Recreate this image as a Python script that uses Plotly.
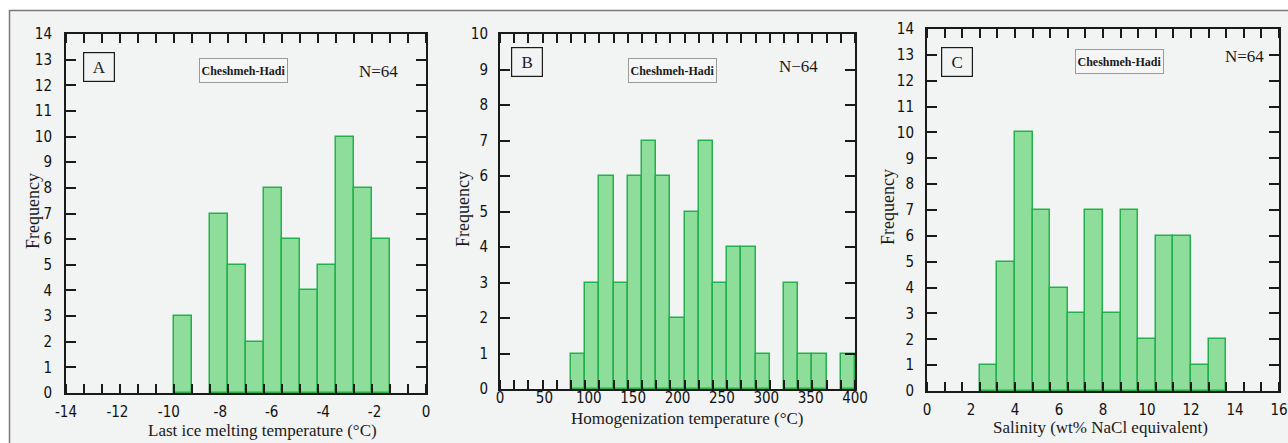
import plotly.graph_objects as go

W, H = 1288, 443

# ---------------- data ----------------
a_bin_start = -14.0
a_bin_width = 0.7
a_counts = [0, 0, 0, 0, 0, 0, 3, 0, 7, 5, 2, 8, 6, 4, 5, 10, 8, 6, 0, 0]

b_bin_start = 0.0
b_bin_width = 16.0
b_counts = [0, 0, 0, 0, 0, 1, 3, 6, 3, 6, 7, 6, 2, 5, 7, 3, 4, 4, 1, 0, 3, 1, 1, 0, 1]

c_bin_start = 0.0
c_bin_width = 0.8
c_counts = [0, 0, 0, 1, 5, 10, 7, 4, 3, 7, 3, 7, 2, 6, 6, 1, 2, 0, 0, 0]

a_xticks = [-14, -12, -10, -8, -6, -4, -2, 0]
a_xtick_labels = ["-14", "-12", "-10", "-8", "-6", "-4", "-2", "0"]
b_xticks = [0, 50, 100, 150, 200, 250, 300, 350, 400]
b_xtick_labels = ["0", "50", "100", "150", "200", "250", "300", "350", "400"]
c_xticks = [0, 2, 4, 6, 8, 10, 12, 14, 16]
c_xtick_labels = ["0", "2", "4", "6", "8", "10", "12", "14", "16"]

x_titles = ["Last ice melting temperature (°C)",
            "Homogenization temperature (°C)",
            "Salinity (wt% NaCl equivalent)"]
panel_letters = ["A", "B", "C"]
site_name = "Cheshmeh-Hadi"
n_labels = ["N=64", "N\u221264", "N=64"]

# ---------------- styling / layout ----------------
BG = "#f2f3f3"
FILL = "#8edd9b"
EDGE = "#22b14c"
TICK_FONT = dict(family="Liberation Sans Narrow, Arial Narrow, DejaVu Sans Condensed, Liberation Sans, Arial",
                 size=15, color="#111111")
SERIF = "Liberation Serif, Times New Roman, serif"


def px(x):
    return x / W


def py(y):
    return 1 - y / H


panels = [
    dict(counts=a_counts, start=a_bin_start, width=a_bin_width, xr=[-14, 0], yr=[0, 14],
         xticks=a_xticks, xlabels=a_xtick_labels,
         box=(66, 426, 34, 393), xstand=4, ystand=9, long_col="#1a1a1a",
         ytitle=(33, 211), xtitle=(262, 430),
         letter=(99, 67), site=(243.5, 70.5), n=(378, 71)),
    dict(counts=b_counts, start=b_bin_start, width=b_bin_width, xr=[0, 400], yr=[0, 10],
         xticks=b_xticks, xlabels=b_xtick_labels,
         box=(500, 855, 34, 389), xstand=-6, ystand=7, long_col="#666666",
         ytitle=(463, 209), xtitle=(687, 418),
         letter=(526.5, 61.5), site=(672.5, 70.5), n=(798, 66)),
    dict(counts=c_counts, start=c_bin_start, width=c_bin_width, xr=[0, 16], yr=[0, 14],
         xticks=c_xticks, xlabels=c_xtick_labels,
         box=(927, 1279, 29, 391), xstand=4, ystand=8, long_col="#1a1a1a",
         ytitle=(888, 207), xtitle=(1100, 427),
         letter=(956.5, 62), site=(1119.5, 61.5), n=(1244.5, 57)),
]

fig = go.Figure()
layout = dict(
    width=W, height=H,
    margin=dict(l=0, r=0, t=0, b=0, pad=0, autoexpand=False),
    paper_bgcolor="white",
    plot_bgcolor=BG,
    showlegend=False,
    bargap=0,
    shapes=[],
    annotations=[],
)

layout["shapes"].append(dict(type="rect", xref="paper", yref="paper",
                             x0=px(9.5), x1=px(1300), y0=py(470), y1=py(10.5),
                             fillcolor=BG, line=dict(color="#7a7a7a", width=1.5),
                             layer="below"))

for i, p in enumerate(panels):
    k = i + 1
    xs = "" if k == 1 else str(k)
    ys = "" if k == 1 else str(k)
    ov = str(k + 3)
    n = len(p["counts"])
    centers = [p["start"] + p["width"] * (j + 0.5) for j in range(n)]
    line_widths = [1.5 if c > 0 else 0 for c in p["counts"]]
    fig.add_trace(go.Bar(
        x=centers, y=p["counts"], width=[p["width"]] * n,
        marker=dict(color=FILL, line=dict(color=EDGE, width=line_widths)),
        xaxis="x" + xs, yaxis="y" + ys, hoverinfo="x+y",
    ))
    x0, x1, y0, y1 = p["box"]
    layout["xaxis" + xs] = dict(
        domain=[px(x0), px(x1)], range=p["xr"], anchor="y" + ys, automargin=False,
        showline=True, linecolor="#1a1a1a", linewidth=2, mirror="ticks",
        showgrid=False, zeroline=False,
        tickmode="array", tickvals=p["xticks"], ticktext=p["xlabels"],
        ticks="", tickfont=TICK_FONT, ticklabelstandoff=p["xstand"],
        minor=dict(ticks="inside", tickmode="linear", tick0=p["start"], dtick=p["width"],
                   ticklen=9, tickwidth=2, tickcolor="#1a1a1a", showgrid=False),
    )
    layout["yaxis" + ys] = dict(
        domain=[py(y1), py(y0)], range=p["yr"], anchor="x" + xs, automargin=False,
        showline=True, linecolor="#1a1a1a", linewidth=2, mirror="ticks",
        showgrid=False, zeroline=False,
        tickmode="linear", tick0=0, dtick=1,
        ticks="inside", ticklen=10, tickwidth=2, tickcolor="#1a1a1a",
        tickfont=TICK_FONT, ticklabelstandoff=p["ystand"],
    )
    layout["yaxis" + ov] = dict(
        overlaying="y" + ys, anchor="x" + xs, side="left", range=p["yr"], automargin=False,
        showline=False, showgrid=False, zeroline=False, showticklabels=False,
        tickmode="linear", tick0=0, dtick=5,
        ticks="inside", ticklen=18, tickwidth=2, tickcolor=p["long_col"], mirror="ticks",
    )

    ann = layout["annotations"]
    ann.append(dict(xref="paper", yref="paper", x=px(p["ytitle"][0]), y=py(p["ytitle"][1]),
                    text="Frequency", textangle=-90, showarrow=False,
                    font=dict(family=SERIF, size=18, color="#1a1a1a"),
                    xanchor="center", yanchor="middle"))
    ann.append(dict(xref="paper", yref="paper", x=px(p["xtitle"][0]), y=py(p["xtitle"][1]),
                    text=x_titles[i], showarrow=False,
                    font=dict(family=SERIF, size=17, color="#1a1a1a"),
                    xanchor="center", yanchor="middle"))
    ann.append(dict(xref="paper", yref="paper", x=px(p["letter"][0]), y=py(p["letter"][1]),
                    text=panel_letters[i], showarrow=False,
                    font=dict(family=SERIF, size=17, color="#1a1a1a"),
                    xanchor="center", yanchor="middle",
                    width=30, height=28, borderpad=0, borderwidth=1.2,
                    bordercolor="#1a1a1a", bgcolor=BG))
    ann.append(dict(xref="paper", yref="paper", x=px(p["site"][0]), y=py(p["site"][1]),
                    text="<b>" + site_name + "</b>", showarrow=False,
                    font=dict(family=SERIF, size=12, color="#1a1a1a"),
                    xanchor="center", yanchor="middle",
                    width=87, height=23, borderpad=0, borderwidth=1,
                    bordercolor="#9a9a9a", bgcolor="#f6f6f6"))
    ann.append(dict(xref="paper", yref="paper", x=px(p["n"][0]), y=py(p["n"][1]),
                    text=n_labels[i], showarrow=False,
                    font=dict(family=SERIF, size=17, color="#1a1a1a"),
                    xanchor="center", yanchor="middle"))

fig.update_layout(**layout)
fig.write_html("out.html")
